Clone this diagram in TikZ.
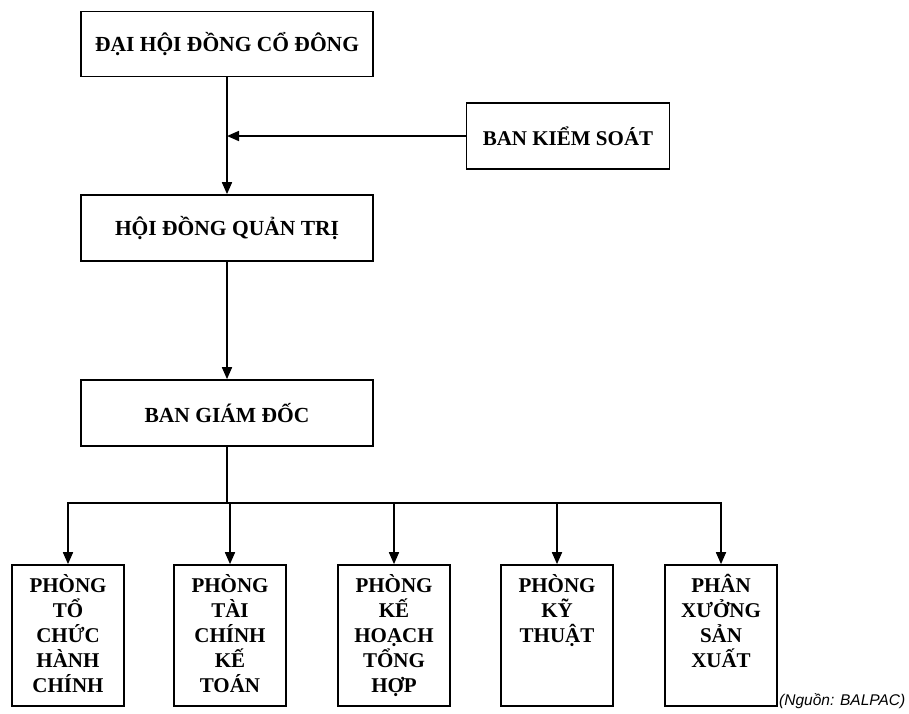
\documentclass[tikz,border=0pt]{standalone}
\usepackage{fontspec}
\setmainfont{Liberation Serif}
\newfontfamily\srcfont{Liberation Sans}
\usetikzlibrary{arrows.meta}
\tikzset{
  line/.style={line width=1.7pt, draw=black},
  arr/.style={line, -{Triangle[length=12pt,width=10pt]}},
  topbox/.style={draw, line width=1.7pt, inner sep=0pt, minimum width=292pt, minimum height=65pt,
    font=\fontsize{21.5}{25}\selectfont\bfseries},
  bksbox/.style={draw, line width=1.7pt, inner sep=0pt, minimum width=203pt, minimum height=66pt,
    font=\fontsize{21}{25}\selectfont\bfseries},
  deptbox/.style={draw, line width=1.7pt, inner sep=0pt, minimum width=112pt, minimum height=141pt},
  depttext/.style={anchor=base, inner sep=0pt},
}
\newcommand{\depttxt}[1]{\parbox[t]{112pt}{\centering\fontsize{21}{25}\selectfont\bfseries #1}}
\begin{document}
\begin{tikzpicture}[x=1pt,y=-1pt]
\useasboundingbox (0,0) rectangle (909,713);
% main boxes
\node[topbox] (dhd) at (227,44) {ĐẠI HỘI ĐỒNG CỔ ĐÔNG};
\node[bksbox] (bks) at (568,136) {BAN KIỂM SOÁT};
\node[topbox, minimum height=66pt] (hdqt) at (227,228) {HỘI ĐỒNG QUẢN TRỊ};
\node[topbox, minimum height=66pt] (bgd) at (227,413) {BAN GIÁM ĐỐC};
% department boxes
\node[deptbox] (p1) at (68,635.5) {};
\node[deptbox] (p2) at (230,635.5) {};
\node[deptbox] (p3) at (394,635.5) {};
\node[deptbox] (p4) at (557,635.5) {};
\node[deptbox] (p5) at (721,635.5) {};
% department texts
\node[depttext] (t1) at (68,592) {\depttxt{PHÒNG\\TỔ\\CHỨC\\HÀNH\\CHÍNH}};
\node[depttext] (t2) at (230,592) {\depttxt{PHÒNG\\TÀI\\CHÍNH\\KẾ\\TOÁN}};
\node[depttext] (t3) at (394,592) {\depttxt{PHÒNG\\KẾ\\HOẠCH\\TỔNG\\HỢP}};
\node[depttext] (t4) at (557,592) {\depttxt{PHÒNG\\KỸ\\THUẬT}};
\node[depttext] (t5) at (721,592) {\depttxt{PHÂN\\XƯỞNG\\SẢN\\XUẤT}};
% source
\node[anchor=base west, inner sep=0pt, font=\srcfont\itshape\fontsize{15.5}{18}\selectfont] (src) at (779,705) {(Nguồn: BALPAC)};
% connectors
\draw[arr] (dhd.south) -- (hdqt.north);
\coordinate (join) at (dhd.south |- bks.west);
\draw[arr] (bks.west) -- (join);
\draw[arr] (hdqt.south) -- (bgd.north);
\coordinate (hl) at (0,503);
\draw[line] (bgd.south) -- (bgd.south |- hl);
\draw[line] ([xshift=-0.85pt]p1.north |- hl) -- ([xshift=0.85pt]p5.north |- hl);
\foreach \p in {p1,p2,p3,p4,p5} {
  \draw[arr] (\p.north |- hl) -- (\p.north);
}
\end{tikzpicture}
\end{document}
